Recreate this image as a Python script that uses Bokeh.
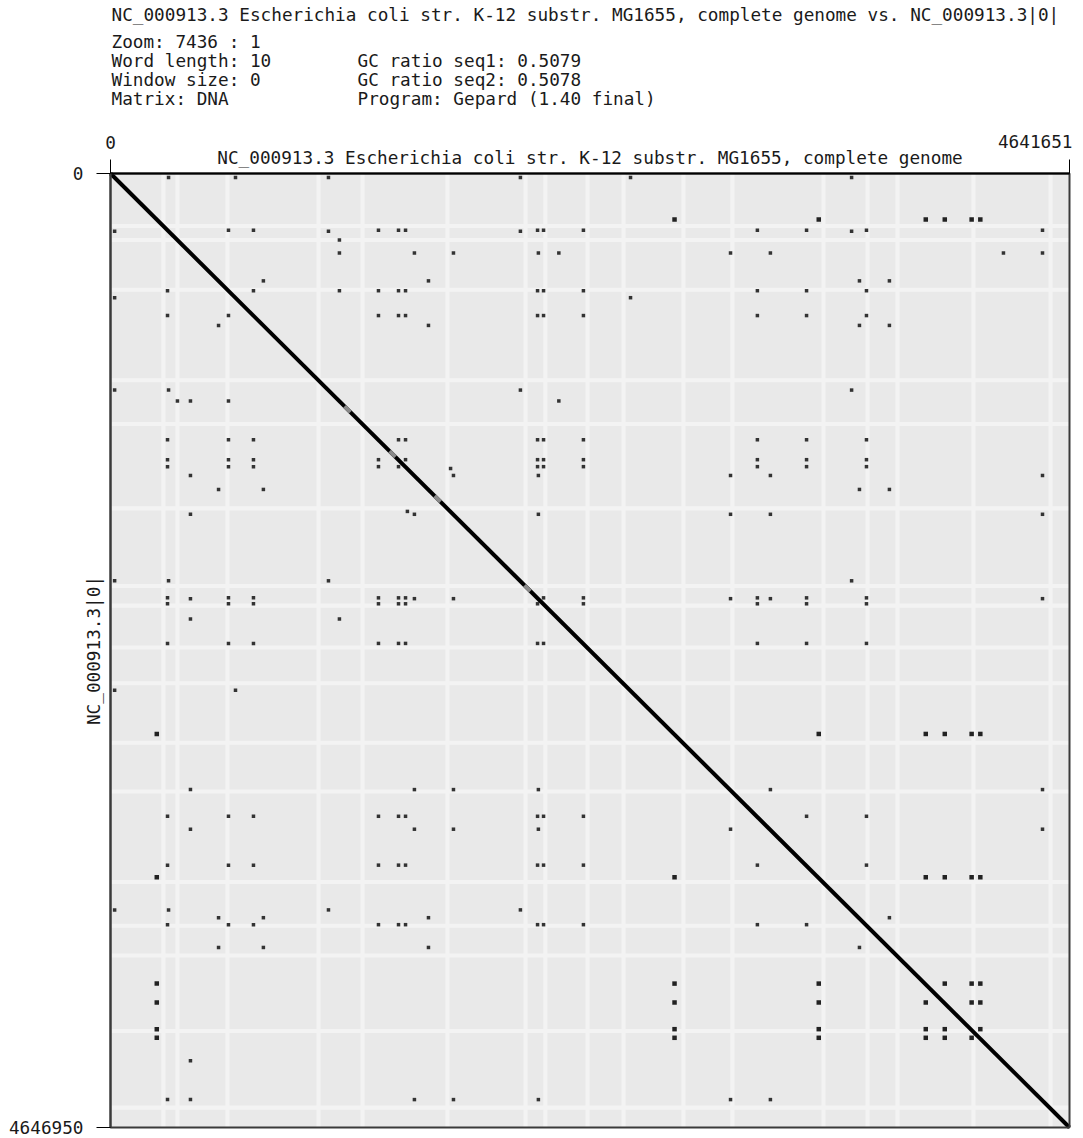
from math import pi
from bokeh.plotting import figure
from bokeh.models import Range1d, FixedTicker, Label, LinearAxis
from bokeh.embed import file_html
from bokeh.resources import INLINE

# ---------------- data ----------------
seq1_len = 4641651          # horizontal sequence length
seq2_len = 4646950          # vertical sequence length
seq1_name = "NC_000913.3 Escherichia coli str. K-12 substr. MG1655, complete genome"
seq2_name = "NC_000913.3|0|"

header_col1 = [
    "NC_000913.3 Escherichia coli str. K-12 substr. MG1655, complete genome vs. NC_000913.3|0|",
    "Zoom: 7436 : 1",
    "Word length: 10",
    "Window size: 0",
    "Matrix: DNA",
]
header_col2 = ["", "", "GC ratio seq1: 0.5079", "GC ratio seq2: 0.5078", "Program: Gepard (1.40 final)"]

x_ticks = [0, 4641651]
y_ticks = [0, 4646950]

# repeat families (genome positions, bp) -> every pair of copies gives a dot
rrna_copies = [224000, 2730000, 3428000, 3946000, 4038000, 4168000, 4210000]
is_a_copies = [276000, 571000, 692000, 1297000, 1394000, 1428000, 2067000, 2096000,
               2289000, 3131000, 3369000, 3659000]
is_b1_copies = [387000, 1471000, 1660000, 2071000, 3001000, 3194000, 4511000]
is_b2_copies = [387000, 1108000, 2170000]
is_c_copies = [523000, 740000, 1539000, 3625000, 3770000]
is_d_copies = [1437000, 1646000]
is_e_copies = [20000, 281000, 1055000, 1984000, 3587000]
# single repeat pairs (shown on both sides of the diagonal)
pair_a = [20000, 605000, 20000, 4322000, 4511000, 1108000, 571000]
pair_b = [605000, 2517000, 2517000, 387000, 276000, 324000, 1108000]

# lighter (low-match) stripes of the background, genome positions and widths (bp)
stripe_pos = [256000, 324000, 566000, 1007000, 1220000, 1631000, 2009000, 2105000,
              2309000, 2483000, 2773000, 3010000, 3451000, 3664000, 3809000, 4177000, 4550000]
stripe_w = [20000] * len(stripe_pos)

# spots where the main diagonal is fainter
diag_faint = [1147000, 1365000, 1583000, 2018000]

FONT = "DejaVu Sans Mono"
FS = "17.7px"
TXT = "#1a1a1a"

# ---------------- geometry of the canvas ----------------
W, H = 1080, 1138          # canvas size
FL, FT = 110, 173          # dot-plot box: left / top offset in the canvas
FW, FH = 959, 954          # dot-plot box size in pixels
sx = seq1_len / FW
sy = seq2_len / FH

p = figure(width=W, height=H, output_backend="svg", toolbar_location=None,
           x_range=Range1d(-FL * sx, (W - FL) * sx),
           y_range=Range1d((H - FT) * sy, -FT * sy),
           x_axis_location=None, y_axis_location=None, min_border=0)
p.outline_line_color = None
p.background_fill_color = "white"
p.border_fill_color = "white"
p.grid.visible = False

# dot-plot box background
p.quad(left=[0], right=[seq1_len], top=[0], bottom=[seq2_len],
       fill_color="#e9e9e9", line_color=None)

# background stripes (vertical and horizontal)
vl = [c - w / 2 for c, w in zip(stripe_pos, stripe_w)]
vr = [c + w / 2 for c, w in zip(stripe_pos, stripe_w)]
p.quad(left=vl, right=vr, bottom=[0] * len(vl), top=[seq2_len] * len(vl),
       fill_color="#f3f3f3", line_color=None)
p.quad(left=[0] * len(vl), right=[seq1_len] * len(vl), bottom=vl, top=vr,
       fill_color="#f3f3f3", line_color=None)

# off-diagonal repeat dots
def family_dots(fams):
    xs, ys = [], []
    for fam in fams:
        for a in fam:
            for b in fam:
                if a != b:
                    xs.append(a)
                    ys.append(b)
    return xs, ys

dx, dy = family_dots([is_a_copies, is_b1_copies, is_b2_copies, is_c_copies,
                      is_d_copies, is_e_copies])
dx += pair_a + pair_b
dy += pair_b + pair_a
p.scatter(dx, dy, size=3.5, marker="square", color="#333333", line_color=None)

rx, ry = family_dots([rrna_copies])
p.scatter(rx, ry, size=4.5, marker="square", color="#222222", line_color=None)

# main diagonal
p.line([0, seq1_len], [0, seq2_len], line_width=4, line_color="black")
fy = [v * seq2_len / seq1_len for v in diag_faint]
p.segment(x0=[v - 14000 for v in diag_faint], x1=[v + 14000 for v in diag_faint],
          y0=[v - 14000 for v in fy], y1=[v + 14000 for v in fy],
          line_width=4, line_color="#8a8a8a")

# box border
p.quad(left=[0], right=[seq1_len], top=[0], bottom=[seq2_len],
       fill_color=None, line_color="#3a3a3a", line_width=2)

# axes fixed on the box edges
top_ax = LinearAxis(fixed_location=0, ticker=FixedTicker(ticks=x_ticks), bounds=(0, seq1_len),
                    major_tick_out=14, major_tick_in=0, minor_tick_line_color=None,
                    axis_line_color="black", axis_line_width=2, major_tick_line_color="black",
                    major_label_overrides={t: "" for t in x_ticks})
p.add_layout(top_ax, "above")
left_ax = LinearAxis(fixed_location=0, ticker=FixedTicker(ticks=y_ticks), bounds=(0, seq2_len),
                     major_tick_out=14, major_tick_in=0, minor_tick_line_color=None,
                     axis_line_color="#3a3a3a", axis_line_width=2, major_tick_line_color="black",
                     major_label_standoff=13, major_label_text_font=FONT,
                     major_label_text_font_size=FS, major_label_text_color=TXT,
                     major_label_overrides={t: str(t) for t in y_ticks})
p.add_layout(left_ax, "left")

# ---------------- texts ----------------
def lab(x, y, text, xo=0, yo=0, align="left", angle=0.0):
    p.add_layout(Label(x=x, y=y, x_units="data", y_units="data", text=text,
                       x_offset=xo, y_offset=yo, angle=angle,
                       text_align=align, text_baseline="middle",
                       text_font=FONT, text_font_size=FS, text_color=TXT))

header_y = [159, 132, 113, 94, 75]
for t, yo in zip(header_col1, header_y):
    lab(0, 0, t, xo=1, yo=yo)
for t, yo in zip(header_col2, header_y):
    if t:
        lab(0, 0, t, xo=247, yo=yo)

lab(x_ticks[0], 0, "0", yo=31, align="center")
lab(x_ticks[1], 0, str(x_ticks[1]), xo=3, yo=32, align="right")
lab(seq1_len / 2, 0, seq1_name, yo=16, align="center")
lab(0, seq2_len / 2, seq2_name, xo=-17, align="center", angle=pi / 2)

open("out.html", "w").write(file_html(p, INLINE))
